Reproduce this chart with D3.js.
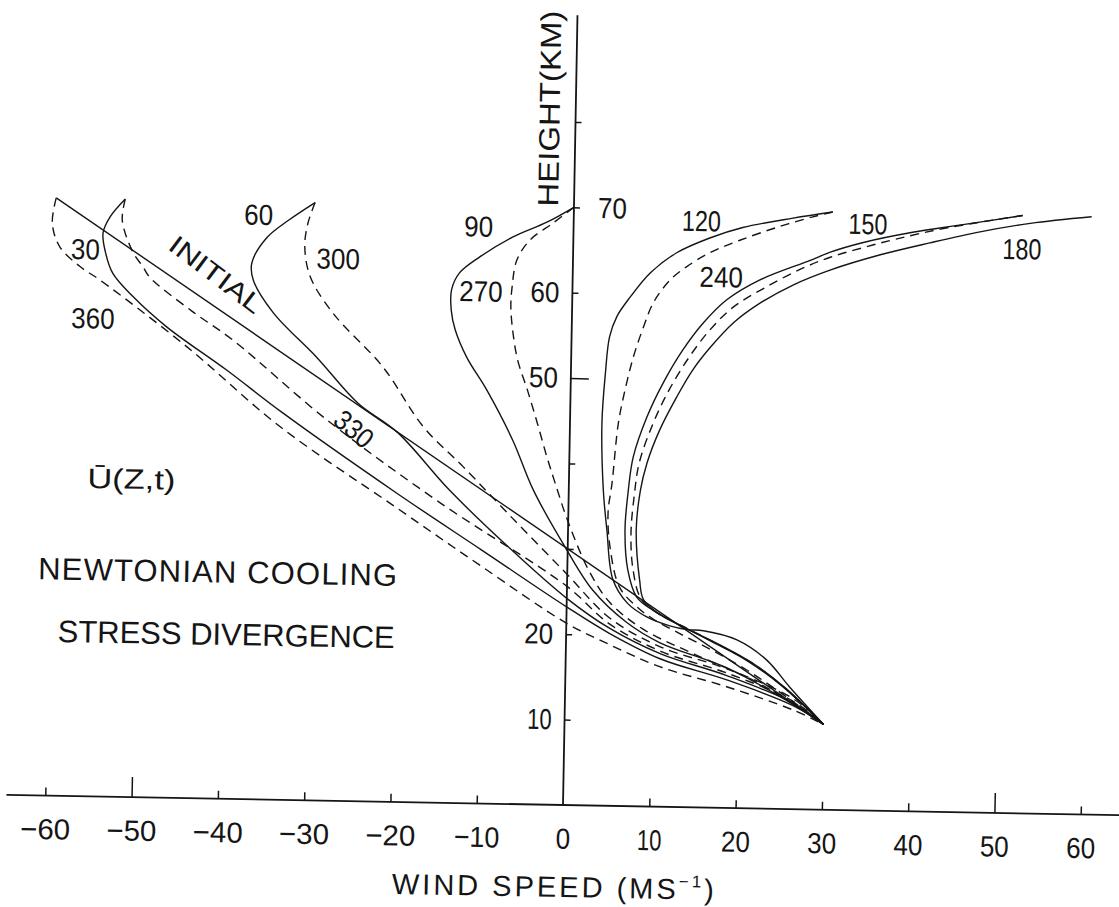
<!DOCTYPE html>
<html>
<head>
<meta charset="utf-8">
<script src="https://cdn.jsdelivr.net/npm/d3@7"></script>
<style>
  html, body { margin: 0; padding: 0; background: #fff; }
  svg { display: block; }
</style>
</head>
<body>
<div id="chart"></div>
<script>
// Mean wind profiles U(z,t) every 30 days: [wind speed m/s, height km]
const initial = [[-60, 70], [30, 10]];
const day30 = [[-52,70],[-53.7,67.9],[-54.5,66.0],[-54.2,63.8],[-53.3,61.3],[-50.9,58.6],[-46.9,55.1],[-39.9,50.2],[-33.3,45.3],[-20,36.2],[-10,29.7],[0,23.2],[5,20.2],[11,17.3],[18.7,15.0],[26.5,12.1],[30,10]];
const day60 = [[-30,70],[-33,67.9],[-35.5,65.8],[-37.2,62.8],[-37,60.8],[-34.6,57],[-29.5,51.9],[-24.6,46.6],[-20,43.3],[-13.8,36.6],[-7,30.2],[0,24.2],[5,20.8],[11,17.9],[18.7,15.5],[26.5,12.4],[30,10]];
const day90 = [[0,70],[-3.1,68.2],[-7,66.4],[-10.8,64],[-13.1,62.1],[-14,60.1],[-14,57.7],[-13.5,55.4],[-12.1,52.2],[-9.7,48.4],[-6.6,42.6],[-4.1,36.8],[-0.3,30.2],[3,25.2],[7,21.5],[10.9,19.2],[18.7,16.4],[26.4,12.3],[30,10]];
const day120 = [[30,70],[25.4,69.2],[19.6,68],[15.8,66.7],[12,64.9],[9,62.5],[6.7,59.6],[5.2,57.3],[4.4,54.9],[4,50.7],[3.7,44.8],[4,37],[4.5,32.3],[5.3,26.5],[7,23.8],[9.3,22.2],[12,21.2],[14,20.8],[15.9,20.7],[19.8,19.7],[23.3,17.4],[26,14.3],[30,10]];
const day150 = [[52,70],[45.1,68.8],[39.3,67.8],[33.6,66.5],[29.8,65.3],[27.5,64.3],[21.7,61.9],[17.9,59.5],[15.2,56.7],[12.9,53.5],[10.7,49.6],[8.9,45.6],[7.4,40.9],[6.9,37],[6.6,32.3],[7,27.7],[8.1,24.5],[10,23.0],[13,21.4],[17,19.4],[21,17.3],[25,14.5],[30,10]];
const day180 = [[60,70],[52.9,69.1],[47.1,68],[41.3,66.6],[35.6,65.1],[29.8,63.2],[25.6,61.4],[21.8,59.2],[18.7,56.8],[16.1,53.9],[14.1,51.2],[12.3,48],[10.4,44.1],[9,40.2],[8.3,37],[7.9,32.4],[8.4,26.5],[8.9,24.2],[11,22.4],[14,20.9],[18,19.0],[22,16.8],[25.6,14.1],[30,10]];
const day210 = [[52,70],[43.3,68.4],[37.5,67.0],[33.6,65.9],[29.8,64.7],[26.5,63.3],[22.3,61.0],[18.6,58.6],[15.9,55.8],[13.6,52.6],[11.4,48.8],[9.6,44.8],[8.1,40.2],[7.6,36.4],[7.3,32],[7.6,27.8],[8.6,24.3],[10.5,22.7],[13.5,21.2],[17.5,19.2],[21.5,17.1],[25.3,14.3],[30,10]];
const day240 = [[30,70],[27.7,69.4],[23.6,68.1],[19.3,66.5],[15.9,65],[13.2,63.3],[11.3,61.7],[9.4,59],[8.3,56.1],[7.2,52.6],[6.3,48.7],[5.6,44.8],[5,37.8],[4.6,34.3],[4.9,30.3],[6.1,25.6],[8.2,23.3],[10,22.0],[13,20.4],[17,18.4],[21,16.2],[25,13.6],[30,10]];
const day270 = [[0,70],[-2.4,68.1],[-5,66.1],[-6.5,63.7],[-7,60.5],[-7.1,58.2],[-6.8,55.2],[-6.2,52],[-5,48.5],[-3.8,44.7],[-2.6,40.7],[-1.6,37.7],[-0.1,33.4],[2.5,27.5],[5,23.8],[9,20.7],[15,17.9],[22,14.9],[27,12.0],[30,10]];
const day300 = [[-30,70],[-30.8,67.5],[-31.1,64.8],[-30.4,61.3],[-27.7,57.1],[-21.8,50.9],[-17,44],[-12.3,39.4],[-6,33],[0,27],[5,22],[11,18.7],[18.7,16.3],[26.5,12.9],[30,10]];
const day330 = [[-52,70],[-52.3,67.5],[-51,63.8],[-49.8,62.1],[-49,60.9],[-44,57.0],[-39.2,53.7],[-28.2,44.6],[-15,35.2],[0,25.6],[5,21.3],[11,18.2],[18.7,15.8],[26.5,12.6],[30,10]];
const day360 = [[-60,70],[-60.4,67],[-59.5,64.3],[-57.1,62],[-54.8,60.5],[-44.5,52.8],[-33.6,43.7],[-20,34.5],[-10,27.8],[0,21.3],[5,18.9],[10.9,16.4],[18.7,14.2],[26.5,11.6],[30,10]];

// curve labels, placed at [wind, height]
const curveLabels = [
  ["30", -56.5, 64.1], ["360", -55.5, 56.0], ["60", -36.5, 68.5], ["300", -27.2, 63.5],
  ["90", -11.0, 67.6], ["270", -10.6, 60.0], ["120", 14.8, 68.7], ["240", 17.2, 62.2],
  ["150", 34.1, 68.7], ["180", 52.0, 66.1]
];

const xTicks = [-60, -50, -40, -30, -20, -10, 0, 10, 20, 30, 40, 50, 60];
const yTicks = [10, 20, 30, 40, 50, 60, 70, 80];
const yLabelsLeft = [10, 20, 50, 60];
const yLabelsRight = [70];

const W = 1119, H = 907;
const ink = "#151515";
const narrow = '"Liberation Sans Narrow", "Liberation Sans", Arial, sans-serif';
const plain = '"Liberation Sans", Arial, sans-serif';
const tilt = 1.05; // the scan is slightly rotated

const x = d3.scaleLinear().domain([-60, 60]).range([45.2, 1080.8]);
const y = d3.scaleLinear().domain([0, 80]).range([805, 121.8]);

// width a condensed numeral label should occupy
function labelWidth(s) {
    let w = 0;
    for (const c of s) w += c === "1" ? 10 : (c === "\u2212" ? 21 : 14.5);
    return w;
}

const svg = d3.select("#chart").append("svg")
    .attr("width", W)
    .attr("height", H);

svg.append("rect").attr("width", W).attr("height", H).attr("fill", "#fff");

const g = svg.append("g")
    .attr("transform", `rotate(${tilt} ${x(0)} ${y(0)})`);

// Profiles
const profiles = [
    { pts: initial, dashed: false },
    { pts: day30, dashed: false },
    { pts: day60, dashed: false },
    { pts: day90, dashed: false },
    { pts: day120, dashed: false },
    { pts: day150, dashed: false },
    { pts: day180, dashed: false },
    { pts: day210, dashed: true },
    { pts: day240, dashed: true },
    { pts: day270, dashed: true },
    { pts: day300, dashed: true },
    { pts: day330, dashed: true },
    { pts: day360, dashed: true }
];

const line = d3.line()
    .x(d => x(d[0]))
    .y(d => y(d[1]))
    .curve(d3.curveCatmullRom.alpha(0.5));

g.selectAll(".profile")
    .data(profiles)
    .enter()
    .append("path")
    .attr("class", "profile")
    .attr("d", d => line(d.pts))
    .attr("fill", "none")
    .attr("stroke", ink)
    .attr("stroke-width", 1.4)
    .attr("stroke-dasharray", d => d.dashed ? "9,6" : null);

// Axis lines
g.append("line")
    .attr("x1", x(-64.5)).attr("x2", x(65))
    .attr("y1", y(0)).attr("y2", y(0))
    .attr("stroke", ink).attr("stroke-width", 1.8);

g.append("line")
    .attr("x1", x(0)).attr("x2", x(0))
    .attr("y1", y(0)).attr("y2", y(92.5))
    .attr("stroke", ink).attr("stroke-width", 1.8);

// X axis ticks and labels
const fmtX = d => d < 0 ? "\u2212" + (-d) : String(d);
const xAxis = d3.axisBottom(x)
    .tickValues(xTicks)
    .tickSizeInner(-8)
    .tickSizeOuter(0)
    .tickPadding(23)
    .tickFormat(fmtX);

const gx = g.append("g")
    .attr("transform", `translate(0,${y(0)})`)
    .call(xAxis);
gx.select(".domain").remove();
gx.attr("font-family", narrow).attr("font-size", 29);
gx.selectAll(".tick line")
    .attr("y2", d => d === 0 ? 0 : (Math.abs(d) === 50 ? -20 : -8))
    .attr("stroke", ink)
    .attr("stroke-width", 1.5);
gx.selectAll(".tick text")
    .attr("fill", ink)
    .attr("textLength", d => labelWidth(fmtX(d)))
    .attr("lengthAdjust", "spacingAndGlyphs");

// Y axis ticks and labels
const yAxis = d3.axisLeft(y)
    .tickValues(yTicks)
    .tickSizeInner(-6)
    .tickSizeOuter(0)
    .tickPadding(13)
    .tickFormat(d => yLabelsLeft.includes(d) ? String(d) : "");

const gy = g.append("g")
    .attr("transform", `translate(${x(0)},0)`)
    .call(yAxis);
gy.select(".domain").remove();
gy.attr("font-family", narrow).attr("font-size", 29);
gy.selectAll(".tick line")
    .attr("x2", d => d === 50 ? 18 : 6)
    .attr("stroke", ink)
    .attr("stroke-width", 1.5);
gy.selectAll(".tick text")
    .attr("fill", ink)
    .attr("textLength", d => yLabelsLeft.includes(d) ? labelWidth(String(d)) : null)
    .attr("lengthAdjust", "spacingAndGlyphs");

g.selectAll(".ylab-right")
    .data(yLabelsRight)
    .enter()
    .append("text")
    .attr("class", "ylab-right")
    .attr("x", x(0) + 24)
    .attr("y", d => y(d))
    .attr("dy", "0.35em")
    .attr("font-family", narrow)
    .attr("font-size", 29)
    .attr("fill", ink)
    .attr("textLength", d => labelWidth(String(d)))
    .attr("lengthAdjust", "spacingAndGlyphs")
    .text(d => d);

// Curve labels
g.selectAll(".curve-label")
    .data(curveLabels)
    .enter()
    .append("text")
    .attr("class", "curve-label")
    .attr("x", d => x(d[1]))
    .attr("y", d => y(d[2]))
    .attr("dy", "0.36em")
    .attr("text-anchor", "middle")
    .attr("font-family", narrow)
    .attr("font-size", 29)
    .attr("fill", ink)
    .attr("textLength", d => labelWidth(d[0]))
    .attr("lengthAdjust", "spacingAndGlyphs")
    .text(d => d[0]);

// Labels along lines
g.append("text")
    .attr("transform", `translate(${x(-41.3)},${y(61.4)}) rotate(36)`)
    .attr("dy", "0.36em")
    .attr("text-anchor", "middle")
    .attr("font-family", plain)
    .attr("font-size", 26)
    .attr("fill", ink)
    .attr("textLength", 110)
    .attr("lengthAdjust", "spacingAndGlyphs")
    .text("INITIAL");

g.append("text")
    .attr("transform", `translate(${x(-25.0)},${y(43.6)}) rotate(39)`)
    .attr("dy", "0.36em")
    .attr("text-anchor", "middle")
    .attr("font-family", narrow)
    .attr("font-size", 28)
    .attr("fill", ink)
    .attr("textLength", 42)
    .attr("lengthAdjust", "spacingAndGlyphs")
    .text("330");

// Axis titles
g.append("text")
    .attr("transform", `translate(${x(0) - 16},${y(81.5)}) rotate(-90)`)
    .attr("text-anchor", "middle")
    .attr("font-family", plain)
    .attr("font-size", 29)
    .attr("fill", ink)
    .attr("textLength", 196)
    .attr("lengthAdjust", "spacingAndGlyphs")
    .text("HEIGHT(KM)");

const xt = g.append("text")
    .attr("x", x(-1))
    .attr("y", y(0) + 92)
    .attr("text-anchor", "middle")
    .attr("font-family", plain)
    .attr("font-size", 29)
    .attr("fill", ink)
    .attr("textLength", 322)
    .attr("lengthAdjust", "spacing");
xt.append("tspan").text("WIND SPEED (MS");
xt.append("tspan").attr("font-size", 17).attr("dy", -12).text("\u22121");
xt.append("tspan").attr("dy", 12).text(")");

// Annotations
g.append("text")
    .attr("x", x(-50.7))
    .attr("y", y(36.1))
    .attr("text-anchor", "middle")
    .attr("font-family", plain)
    .attr("font-size", 28)
    .attr("fill", ink)
    .attr("textLength", 88)
    .attr("lengthAdjust", "spacingAndGlyphs")
    .text("\u016A(Z,t)");

g.append("text")
    .attr("x", x(-61.3))
    .attr("y", y(25.3))
    .attr("font-family", plain)
    .attr("font-size", 31)
    .attr("fill", ink)
    .attr("textLength", 359)
    .attr("lengthAdjust", "spacing")
    .text("NEWTONIAN COOLING");

g.append("text")
    .attr("x", x(-58.9))
    .attr("y", y(18.0))
    .attr("font-family", plain)
    .attr("font-size", 31)
    .attr("fill", ink)
    .attr("textLength", 337)
    .attr("lengthAdjust", "spacing")
    .text("STRESS DIVERGENCE");
</script>
</body>
</html>
